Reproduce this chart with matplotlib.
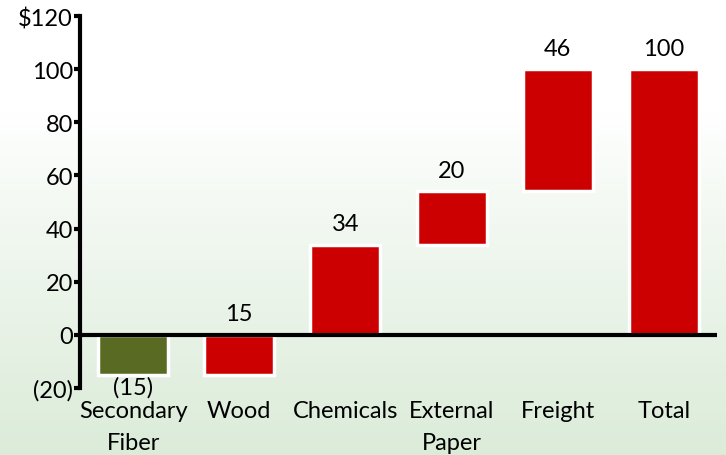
import numpy as np
import matplotlib.pyplot as plt

# ---- data ----
categories = ['Secondary\nFiber', 'Wood', 'Chemicals', 'External\nPaper', 'Freight', 'Total']
changes = [-15, 15, 34, 20, 46]
total = 100
value_labels = ['(15)', '15', '34', '20', '46', '100']
y_ticks = [-20, 0, 20, 40, 60, 80, 100, 120]
y_ticklabels = ['(20)', '0', '20', '40', '60', '80', '100', '$120']
colors = ['#596B22', '#CC0000', '#CC0000', '#CC0000', '#CC0000', '#CC0000']

# waterfall: each step starts where the previous ended, total starts at 0
bottoms = list(np.concatenate([[0], np.cumsum(changes)[:-1]])) + [0]
heights = changes + [total]

plt.rcParams['font.family'] = ['Lato', 'DejaVu Sans']
fs = 17

fig = plt.figure(figsize=(7.26, 4.56), dpi=100)

# ---- background gradient: white on top, light green at the bottom ----
bg = fig.add_axes([0, 0, 1, 1], zorder=-10)
grad = np.linspace(0, 1, 256).reshape(-1, 1)
top = np.array([1.0, 1.0, 1.0])
bot = np.array([0.86, 0.925, 0.85])
w = np.clip((grad - 0.25) / 0.75, 0, 1) ** 0.9
img = top * (1 - w)[..., None] + bot * w[..., None]
img = img.reshape(256, 1, 3)
bg.imshow(img, aspect='auto', extent=[0, 1, 0, 1])
bg.axis('off')

ax = fig.add_axes([80 / 726, (456 - 389) / 456, (717 - 80) / 726, (389 - 17) / 456])
ax.patch.set_alpha(0)

x = np.arange(len(categories))
ax.bar(x, heights, bottom=bottoms, width=0.66, color=colors, edgecolor='white', linewidth=2.5, zorder=2)

ax.axhline(0, color='k', lw=3, zorder=3)

for i in range(len(categories)):
    b, h = bottoms[i], heights[i]
    if h < 0:
        ax.text(x[i], b + h - 0.5, value_labels[i], ha='center', va='top', fontsize=fs)
    else:
        ax.text(x[i], b + h + 4, value_labels[i], ha='center', va='bottom', fontsize=fs)

ax.set_xlim(-0.5, 5.5)
ax.set_ylim(-20, 120)
ax.set_yticks(y_ticks)
ax.set_yticklabels(y_ticklabels, fontsize=fs)
ax.set_xticks(x)
ax.set_xticklabels(categories, fontsize=fs, linespacing=1.6)
ax.tick_params(axis='x', length=0, pad=9)
ax.tick_params(axis='y', length=4, width=3, pad=1)

for s in ['top', 'right', 'bottom']:
    ax.spines[s].set_visible(False)
ax.spines['left'].set_linewidth(3)

plt.savefig('out.png', dpi=100)
